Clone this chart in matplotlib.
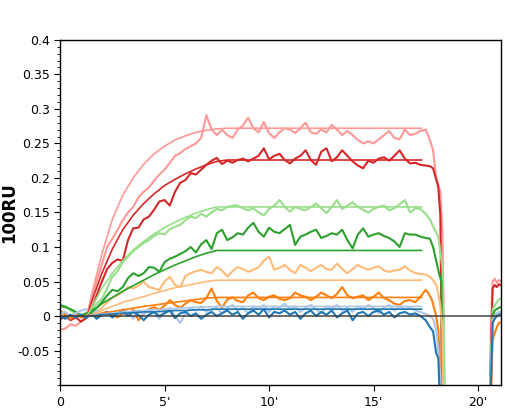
import numpy as np
import matplotlib
matplotlib.use("Agg")
import matplotlib.pyplot as plt
from matplotlib.ticker import MultipleLocator, FixedLocator, FuncFormatter

# ─── Data ───────────────────────────────────────────────
# association/dissociation phase, sampled every 0.25 min from 0 to 17.5
T = np.linspace(0, 17.5, 71)

PINK = [-0.02, -0.018, -0.012, -0.014, -0.008, -0.002, 0.025, 0.05, 0.075, 0.1,
        0.112, 0.125, 0.139, 0.15, 0.158, 0.172, 0.18, 0.186, 0.196, 0.205,
        0.212, 0.222, 0.232, 0.236, 0.242, 0.246, 0.25, 0.258, 0.291, 0.27,
        0.262, 0.27, 0.262, 0.258, 0.27, 0.276, 0.287, 0.272, 0.266, 0.281,
        0.265, 0.258, 0.266, 0.272, 0.27, 0.265, 0.272, 0.28, 0.266, 0.264,
        0.27, 0.266, 0.277, 0.27, 0.262, 0.268, 0.262, 0.255, 0.25, 0.253,
        0.25, 0.256, 0.262, 0.268, 0.258, 0.256, 0.27, 0.262, 0.264, 0.268, 0.27]
RED = [-0.005, 0.0, -0.006, -0.002, -0.008, -0.003, 0.01, 0.03, 0.05, 0.068,
       0.077, 0.082, 0.08, 0.11, 0.127, 0.128, 0.14, 0.144, 0.154, 0.166,
       0.168, 0.16, 0.18, 0.193, 0.197, 0.207, 0.205, 0.212, 0.219, 0.225,
       0.229, 0.22, 0.225, 0.222, 0.226, 0.228, 0.224, 0.228, 0.232, 0.243,
       0.227, 0.232, 0.235, 0.226, 0.221, 0.228, 0.232, 0.24, 0.226, 0.219,
       0.238, 0.243, 0.224, 0.23, 0.24, 0.232, 0.224, 0.218, 0.214, 0.225,
       0.222, 0.228, 0.23, 0.225, 0.232, 0.24, 0.228, 0.221, 0.222, 0.219, 0.218]
LGREEN = [0.012, 0.015, 0.008, 0.004, 0.002, 0.004, 0.008, 0.018, 0.025, 0.04,
          0.057, 0.065, 0.078, 0.086, 0.094, 0.1, 0.106, 0.11, 0.116, 0.12,
          0.118, 0.126, 0.129, 0.132, 0.139, 0.144, 0.142, 0.148, 0.144, 0.15,
          0.155, 0.153, 0.158, 0.16, 0.16, 0.156, 0.153, 0.156, 0.15, 0.146,
          0.155, 0.16, 0.168, 0.158, 0.151, 0.158, 0.155, 0.153, 0.158, 0.163,
          0.156, 0.149, 0.158, 0.168, 0.155, 0.16, 0.165, 0.158, 0.154, 0.15,
          0.155, 0.158, 0.16, 0.153, 0.156, 0.162, 0.168, 0.15, 0.156, 0.155, 0.148]
GREEN = [0.016, 0.013, 0.01, 0.006, 0.0, 0.004, 0.008, 0.012, 0.02, 0.03,
         0.038, 0.036, 0.042, 0.055, 0.062, 0.058, 0.062, 0.071, 0.07, 0.064,
         0.078, 0.083, 0.086, 0.09, 0.094, 0.1, 0.092, 0.104, 0.11, 0.097,
         0.12, 0.125, 0.11, 0.114, 0.12, 0.118, 0.128, 0.135, 0.122, 0.115,
         0.128, 0.122, 0.12, 0.126, 0.132, 0.103, 0.115, 0.118, 0.122, 0.125,
         0.113, 0.116, 0.12, 0.118, 0.125, 0.11, 0.098, 0.118, 0.127, 0.115,
         0.118, 0.12, 0.116, 0.113, 0.108, 0.1, 0.12, 0.118, 0.118, 0.115, 0.113]
LORANGE = [0.0, 0.004, 0.0, 0.003, -0.002, 0.001, 0.003, 0.006, 0.012, 0.02,
           0.026, 0.03, 0.035, 0.042, 0.04, 0.044, 0.05, 0.042, 0.04, 0.038,
           0.05, 0.057, 0.045, 0.042, 0.058, 0.062, 0.065, 0.067, 0.064, 0.062,
           0.071, 0.066, 0.057, 0.065, 0.071, 0.068, 0.064, 0.067, 0.071, 0.08,
           0.086, 0.067, 0.07, 0.074, 0.067, 0.062, 0.074, 0.07, 0.065, 0.07,
           0.074, 0.068, 0.067, 0.076, 0.068, 0.062, 0.068, 0.074, 0.07, 0.067,
           0.07, 0.072, 0.066, 0.064, 0.066, 0.067, 0.072, 0.066, 0.062, 0.061, 0.06]
ORANGE = [0.008, 0.002, -0.004, 0.004, -0.002, 0.0, 0.002, -0.002, 0.004, 0.006,
          0.002, -0.002, 0.004, 0.002, 0.009, -0.006, 0.003, 0.01, 0.013, 0.009,
          0.015, 0.023, 0.016, 0.012, 0.018, 0.023, 0.02, 0.019, 0.026, 0.04,
          0.022, 0.012, 0.024, 0.027, 0.022, 0.02, 0.03, 0.034, 0.026, 0.023,
          0.028, 0.03, 0.025, 0.023, 0.026, 0.034, 0.03, 0.028, 0.023, 0.028,
          0.034, 0.03, 0.026, 0.032, 0.042, 0.03, 0.026, 0.028, 0.03, 0.023,
          0.028, 0.034, 0.026, 0.023, 0.018, 0.016, 0.022, 0.023, 0.02, 0.028, 0.038]
LBLUE = [0.003, 0.006, 0.0, 0.004, 0.008, 0.01, 0.004, 0.008, 0.002, 0.006,
         -0.002, 0.004, 0.01, 0.006, -0.004, 0.008, 0.002, 0.01, 0.004, -0.004,
         0.006, 0.012, 0.0, -0.01, 0.004, 0.012, 0.008, 0.014, 0.006, 0.01,
         0.012, 0.004, 0.012, 0.016, 0.008, 0.012, 0.004, 0.014, 0.01, 0.016,
         0.006, 0.014, 0.012, 0.018, 0.01, 0.014, 0.006, 0.012, 0.016, 0.01,
         0.004, 0.014, 0.01, 0.016, 0.008, 0.012, 0.006, 0.014, 0.01, 0.016,
         0.012, 0.004, 0.012, 0.016, 0.008, 0.014, 0.01, 0.012, 0.008, 0.006, 0.003]
BLUE = [0.0, -0.004, 0.002, -0.002, 0.002, -0.003, 0.004, -0.004, 0.002, 0.006,
        -0.002, 0.004, 0.008, 0.0, 0.006, 0.002, -0.006, 0.002, 0.006, 0.0,
        0.004, 0.008, -0.003, 0.004, 0.006, 0.0, 0.004, -0.004, 0.002, 0.006,
        0.0, 0.004, 0.008, 0.002, 0.006, -0.004, 0.004, 0.008, 0.002, 0.01,
        -0.002, 0.006, 0.004, 0.008, 0.002, 0.006, -0.004, 0.004, 0.008, 0.0,
        0.006, 0.002, 0.008, -0.002, 0.004, 0.008, -0.006, 0.004, 0.006, 0.0,
        0.006, 0.008, 0.002, 0.006, -0.002, 0.004, 0.006, 0.002, 0.004, 0.0, -0.006]

# regeneration drop (each curve falls off the bottom)
PINK_TAIL_T = [17.7, 17.85, 18.0, 18.2, 18.3, 18.35, 18.42]
PINK_TAIL = [0.255, 0.24, 0.2, 0.18, 0.12, 0.02, -0.15]
RED_TAIL_T = [17.7, 17.85, 18.0, 18.1, 18.2, 18.25, 18.28]
RED_TAIL = [0.217, 0.214, 0.198, 0.187, 0.145, 0.0, -0.15]
LGREEN_TAIL_T = [17.7, 17.85, 18.1, 18.3, 18.36, 18.4]
LGREEN_TAIL = [0.14, 0.13, 0.115, 0.07, 0.0, -0.15]
GREEN_TAIL_T = [17.7, 17.85, 18.0, 18.15, 18.25, 18.3]
GREEN_TAIL = [0.112, 0.1, 0.08, 0.06, 0.05, -0.15]
LORANGE_TAIL_T = [17.7, 17.85, 18.0, 18.1, 18.2, 18.3, 18.33]
LORANGE_TAIL = [0.057, 0.052, 0.045, 0.033, 0.013, -0.02, -0.15]
ORANGE_TAIL_T = [17.65, 17.8, 18.0, 18.1, 18.15, 18.22]
ORANGE_TAIL = [0.032, 0.023, 0.0, -0.02, -0.05, -0.15]
LBLUE_TAIL_T = [17.7, 17.85, 18.0, 18.1, 18.2, 18.25]
LBLUE_TAIL = [0.0, -0.004, -0.02, -0.05, -0.09, -0.15]
BLUE_TAIL_T = [17.7, 17.85, 18.0, 18.1, 18.15, 18.2]
BLUE_TAIL = [-0.016, -0.022, -0.054, -0.06, -0.1, -0.15]

# return to baseline after regeneration
REC_T = [20.55, 20.62, 20.7, 20.8, 20.9, 21.0, 21.15]
PINK_REC = [-0.15, -0.02, 0.05, 0.054, 0.048, 0.052, 0.05]
RED_REC = [-0.15, -0.05, 0.04, 0.045, 0.042, 0.046, 0.044]
LGREEN_REC = [-0.15, -0.08, 0.01, 0.015, 0.02, 0.024, 0.026]
GREEN_REC = [-0.15, -0.08, 0.0, 0.008, 0.01, 0.012, 0.014]
LORANGE_REC = [-0.15, -0.1, -0.005, 0.0, 0.004, 0.006, 0.005]
ORANGE_REC = [-0.15, -0.12, -0.035, -0.025, -0.016, -0.01, -0.008]
LBLUE_REC = [-0.15, -0.06, -0.01, 0.0, 0.004, 0.006, 0.006]
BLUE_REC = [-0.15, -0.1, -0.01, -0.004, 0.0, 0.002, 0.003]

# fitted curves
FIT_T = [1.3, 1.5, 2.0, 2.5, 3.0, 3.5, 4.0, 4.5, 5.0, 5.5, 6.0, 6.5, 7.0, 7.5, 8.0, 17.3]
PINK_FIT = [0.0, 0.03, 0.09, 0.14, 0.175, 0.2, 0.22, 0.235, 0.246, 0.255, 0.261,
            0.266, 0.269, 0.271, 0.272, 0.272]
RED_FIT = [0.0, 0.02, 0.062, 0.097, 0.125, 0.146, 0.163, 0.177, 0.189, 0.198,
           0.206, 0.213, 0.219, 0.224, 0.226, 0.226]
LGREEN_FIT = [0.0, 0.012, 0.04, 0.062, 0.08, 0.096, 0.108, 0.119, 0.128, 0.136,
              0.143, 0.149, 0.154, 0.158, 0.158, 0.158]
GREEN_FIT = [0.0, 0.005, 0.018, 0.027, 0.036, 0.044, 0.052, 0.06, 0.067, 0.074,
             0.08, 0.086, 0.091, 0.095, 0.095, 0.095]
LORANGE_FIT = [0.0, 0.002, 0.008, 0.014, 0.02, 0.024, 0.028, 0.033, 0.037, 0.041,
               0.044, 0.047, 0.05, 0.052, 0.052, 0.052]
ORANGE_FIT = [0.0, 0.001, 0.004, 0.0065, 0.009, 0.0115, 0.014, 0.016, 0.018, 0.02,
              0.022, 0.024, 0.026, 0.027, 0.027, 0.027]
LBLUE_FIT = [0.0, 0.001, 0.003, 0.004, 0.006, 0.007, 0.008, 0.009, 0.01, 0.011,
             0.012, 0.013, 0.013, 0.014, 0.014, 0.014]
BLUE_FIT = [0.0, 0.0, 0.002, 0.003, 0.004, 0.005, 0.006, 0.006, 0.007, 0.008,
            0.008, 0.009, 0.009, 0.01, 0.01, 0.01]

X_TICKS = [0, 5, 10, 15, 20]
X_LABELS = ["0", "5'", "10'", "15'", "20'"]

# ─── Chart ──────────────────────────────────────────────
series = [
    ("#ff9896", PINK, PINK_TAIL_T, PINK_TAIL, PINK_REC, PINK_FIT),
    ("#d62728", RED, RED_TAIL_T, RED_TAIL, RED_REC, RED_FIT),
    ("#98df8a", LGREEN, LGREEN_TAIL_T, LGREEN_TAIL, LGREEN_REC, LGREEN_FIT),
    ("#2ca02c", GREEN, GREEN_TAIL_T, GREEN_TAIL, GREEN_REC, GREEN_FIT),
    ("#ffbb78", LORANGE, LORANGE_TAIL_T, LORANGE_TAIL, LORANGE_REC, LORANGE_FIT),
    ("#ff7f0e", ORANGE, ORANGE_TAIL_T, ORANGE_TAIL, ORANGE_REC, ORANGE_FIT),
    ("#aec7e8", LBLUE, LBLUE_TAIL_T, LBLUE_TAIL, LBLUE_REC, LBLUE_FIT),
    ("#1f77b4", BLUE, BLUE_TAIL_T, BLUE_TAIL, BLUE_REC, BLUE_FIT),
]

fig = plt.figure(figsize=(5.05, 4.15), dpi=100)
ax = fig.add_axes([0.119, 0.072, 0.873, 0.832])

for col, vals, tail_t, tail, rec, fit in series:
    ax.plot(np.concatenate([T, tail_t]), np.concatenate([vals, tail]),
            color=col, lw=1.5, zorder=2)
    ax.plot(REC_T, rec, color=col, lw=1.5, zorder=2)
for col, vals, tail_t, tail, rec, fit in series:
    ax.plot(FIT_T, fit, color=col, lw=1.2, zorder=2.5)

ax.axhline(0, color="#3a3a3a", lw=1.4, alpha=0.75, zorder=3)

ax.set_xlim(0, 21.1)
ax.set_ylim(-0.1, 0.4)
ax.xaxis.set_major_locator(FixedLocator(X_TICKS))
ax.set_xticklabels(X_LABELS)
ax.yaxis.set_major_locator(FixedLocator([-0.05, 0, 0.05, 0.1, 0.15, 0.2, 0.25, 0.3, 0.35, 0.4]))
ax.yaxis.set_minor_locator(MultipleLocator(0.01))
ax.yaxis.set_major_formatter(FuncFormatter(lambda v, p: f"{v:g}" if abs(v) > 1e-9 else "0"))
ax.tick_params(axis="both", which="major", length=4, labelsize=9, color="black")
ax.tick_params(axis="y", which="minor", length=2)
for sp in ax.spines.values():
    sp.set_linewidth(1.0)

ax.set_ylabel("100RU", fontsize=12, fontweight="bold")
ax.yaxis.set_label_coords(-0.095, 0.5)

fig.savefig("out.png", dpi=100)
